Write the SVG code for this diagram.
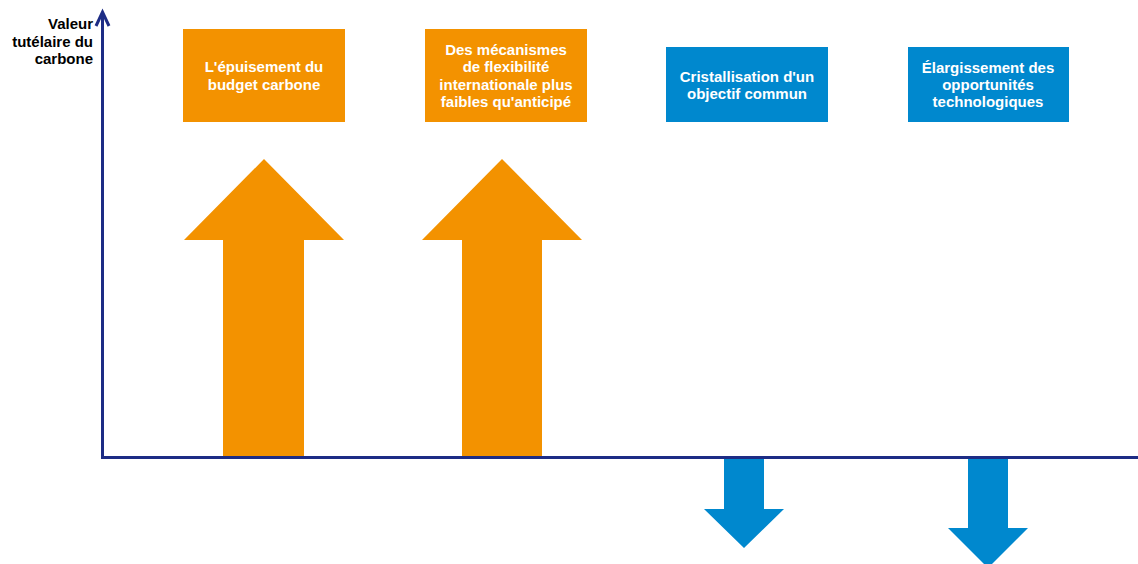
<svg xmlns="http://www.w3.org/2000/svg" width="1138" height="564" viewBox="0 0 1138 564">
<style>
.lbl{font-family:"Liberation Sans",Arial,sans-serif;font-weight:bold;font-size:15px;fill:#fff;text-anchor:middle}
.ax{font-family:"Liberation Sans",Arial,sans-serif;font-weight:bold;font-size:15px;fill:#000;text-anchor:end}
.or{fill:#F39200}
.bl{fill:#0088CE}
.axis{stroke:#1D2C85;stroke-width:3;fill:none}
</style>
<rect width="1138" height="564" fill="#fff"/>
<g id="axes">
<path class="axis" d="M102.5 12 V457.5 H1138"/>
<path class="axis" d="M96 26 L102.5 12 L109 26" stroke-linejoin="miter"/>
<text class="ax" x="93" y="29">Valeur</text>
<text class="ax" x="93" y="47">tutélaire du</text>
<text class="ax" x="93" y="64">carbone</text>
</g>
<g id="connectors">
<polygon class="or" points="264,159 344,240 304,240 304,456 223,456 223,240 184,240"/>
<polygon class="or" points="502,159 582,240 542,240 542,456 462,456 462,240 422,240"/>
<polygon class="bl" points="724,459 764,459 764,509 784,509 744,548 704,509 724,509"/>
<polygon class="bl" points="968,459 1008,459 1008,528 1028,528 988,568 948,528 968,528"/>
</g>
<g id="n1">
<rect class="or" x="183" y="29" width="162" height="93"/>
<text class="lbl" x="264" y="72">L'épuisement du</text>
<text class="lbl" x="264" y="90">budget carbone</text>
</g>
<g id="n2">
<rect class="or" x="425" y="29" width="162" height="93"/>
<text class="lbl" x="506" y="55">Des mécanismes</text>
<text class="lbl" x="506" y="72">de flexibilité</text>
<text class="lbl" x="506" y="90">internationale plus</text>
<text class="lbl" x="506" y="107">faibles qu'anticipé</text>
</g>
<g id="n3">
<rect class="bl" x="666" y="47" width="162" height="75"/>
<text class="lbl" x="747" y="82">Cristallisation d'un</text>
<text class="lbl" x="747" y="99">objectif commun</text>
</g>
<g id="n4">
<rect class="bl" x="908" y="47" width="161" height="75"/>
<text class="lbl" x="988" y="73">Élargissement des</text>
<text class="lbl" x="988" y="90">opportunités</text>
<text class="lbl" x="988" y="107">technologiques</text>
</g>
</svg>
